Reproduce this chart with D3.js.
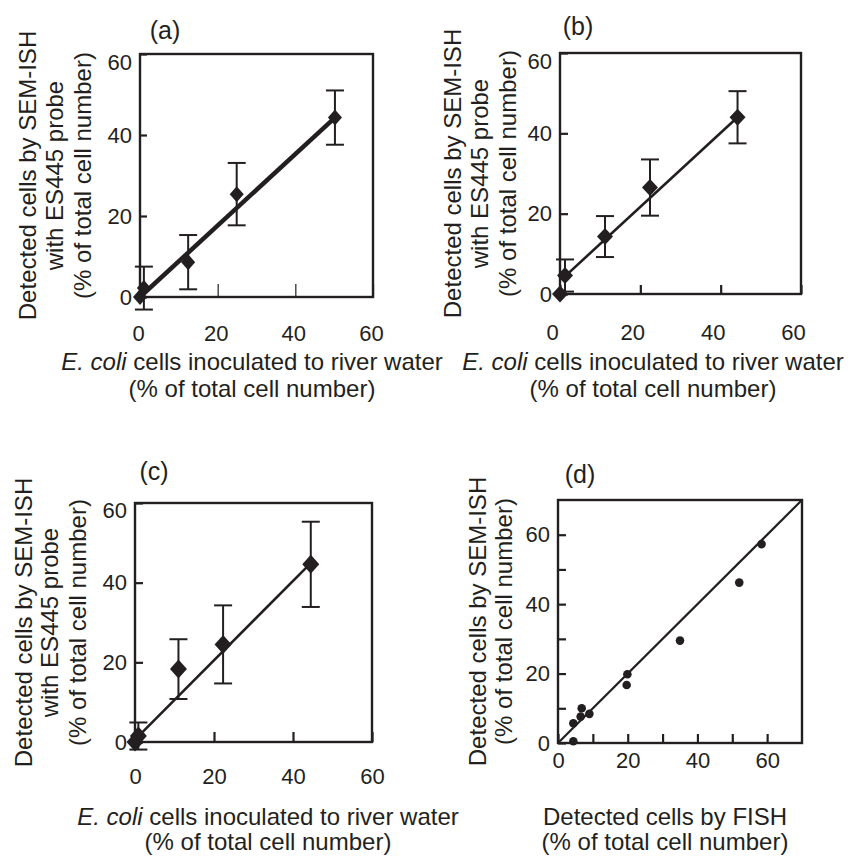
<!DOCTYPE html>
<html><head><meta charset="utf-8">
<script src="https://cdn.jsdelivr.net/npm/d3@7"></script>
<style>
body{margin:0;background:#fff}
svg{display:block}
text{font-family:"Liberation Sans",Arial,Helvetica,sans-serif;fill:#231f20}
</style>
</head><body>
<svg id="chart" width="867" height="858"></svg>
<script>
// ---------------- data ----------------
const ticksABC = [0, 20, 40, 60];
const ticksD = [0, 10, 20, 30, 40, 50, 60];
const tickLabelsD = [0, 20, 40, 60];

// panel (a)
const xA = [0, 1.0, 12.4, 24.9, 50.2];
const yA = [0, 2.2, 8.6, 25.4, 44.3];
const eA = [0, 5.3, 6.7, 7.7, 6.7];
const fitAX = [0, 50.2];
const fitAY = [0, 44.3];

// panel (b)
const xB = [0, 1.25, 11.2, 22.4, 44.2];
const yB = [0, 4.6, 14.3, 26.5, 44.0];
const eB = [0, 4.0, 5.1, 7.0, 6.5];
const fitBX = [0.7, 44.2];
const fitBY = [3.9, 44.0];

// panel (c)
const xC = [0, 0.85, 11.0, 22.3, 44.5];
const yC = [0, 1.5, 18.3, 24.5, 44.6];
const eC = [0, 3.4, 7.5, 9.8, 10.7];
const fitCX = [0, 43.8];
const fitCY = [0.6, 44.2];

// panel (d)
const xD = [4.4, 4.4, 6.5, 6.8, 9.0, 19.9, 19.7, 35.0, 52.0, 58.4];
const yD = [0.5, 5.7, 7.6, 10.0, 8.4, 19.8, 16.7, 29.5, 46.2, 57.3];
const fitDX = [0, 70];
const fitDY = [0, 70];

const panelLabels = ["(a)", "(b)", "(c)", "(d)"];
const yTitleABC = ["Detected cells by SEM-ISH", "with ES445 probe", "(% of total cell number)"];
const yTitleD = ["Detected cells by SEM-ISH", "(% of total cell number)"];
const xTitleABC = [["E. coli", " cells inoculated to river water"], ["", "(% of total cell number)"]];
const xTitleD = [["", "Detected cells by FISH"], ["", "(% of total cell number)"]];

// ---------------- drawing ----------------
const ink = "#231f20";
const svg = d3.select("#chart");

function diamond(hw, hh) {
  return { draw(ctx) { ctx.moveTo(0, -hh); ctx.lineTo(hw, 0); ctx.lineTo(0, hh); ctx.lineTo(-hw, 0); ctx.closePath(); } };
}

function drawPanel(c) {
  const g = svg.append("g");
  const x = d3.scaleLinear().domain(c.xDom).range([c.left, c.right]);
  const y = d3.scaleLinear().domain(c.yDom).range([c.bottom, c.top]);

  // y axis
  const yAx = g.append("g").attr("transform", `translate(${c.left},0)`)
    .call(d3.axisLeft(y).tickValues(c.yTicks).tickSize(-c.yTickLen).tickPadding(8)
      .tickFormat(d => c.yLabels.includes(d) ? d : ""));
  yAx.select(".domain").remove();
  yAx.selectAll(".tick line").attr("stroke", ink).attr("stroke-width", 2.2);
  yAx.selectAll(".tick text").attr("fill", ink).style("font-size", "22px")
    .attr("transform", d => d === 60 && c.topShift ? `translate(0,${c.topShift})` : null);

  // x axis
  const xAx = g.append("g").attr("transform", `translate(0,${c.bottom})`)
    .call(d3.axisBottom(x).tickValues(c.xTicks).tickSize(-c.xTickLen).tickPadding(c.xPad)
      .tickFormat(d => c.xLabels.includes(d) ? d : ""));
  xAx.select(".domain").remove();
  xAx.selectAll(".tick line").attr("stroke", ink).attr("stroke-width", c.xTickW);
  xAx.selectAll(".tick text").attr("fill", ink).style("font-size", "22px")
    .attr("dx", c.xLabDx || 0);

  // frame
  g.append("rect").attr("x", c.left).attr("y", c.top)
    .attr("width", c.right - c.left).attr("height", c.bottom - c.top)
    .attr("fill", "none").attr("stroke", ink).attr("stroke-width", 2.4);

  // fit line
  const fit = c.fitX.map((v, i) => [v, c.fitY[i]]);
  g.append("path").datum(fit)
    .attr("d", d3.line().x(d => x(d[0])).y(d => y(d[1])))
    .attr("fill", "none").attr("stroke", ink).attr("stroke-width", c.fitW);

  const pts = c.xs.map((v, i) => ({ x: v, y: c.ys[i], e: c.es ? c.es[i] : 0 }));

  // error bars
  const eb = g.append("g").attr("stroke", ink).attr("stroke-width", 2).attr("fill", "none");
  pts.filter(p => p.e > 0).forEach(p => {
    const cx = x(p.x), y1 = y(p.y + p.e), y2 = y(p.y - p.e);
    eb.append("line").attr("x1", cx).attr("x2", cx).attr("y1", y1).attr("y2", y2);
    eb.append("line").attr("x1", cx - 9).attr("x2", cx + 9).attr("y1", y1).attr("y2", y1);
    eb.append("line").attr("x1", cx - 9).attr("x2", cx + 9).attr("y1", y2).attr("y2", y2);
  });

  // markers
  if (c.marker === "diamond") {
    g.selectAll("path.pt").data(pts).join("path").attr("class", "pt")
      .attr("transform", d => `translate(${x(d.x)},${y(d.y)})`)
      .attr("d", d3.symbol().type(diamond(c.dw, c.dh))())
      .attr("fill", ink);
  } else {
    g.selectAll("circle.pt").data(pts).join("circle").attr("class", "pt")
      .attr("cx", d => x(d.x)).attr("cy", d => y(d.y)).attr("r", 4.3).attr("fill", ink);
  }

  // panel label
  g.append("text").attr("x", c.labX).attr("y", c.labY).attr("text-anchor", "middle")
    .style("font-size", "25px").text(c.label);

  // y title (rotated)
  const cy = (c.top + c.bottom) / 2;
  c.yTitle.forEach((t, i) => {
    g.append("text").attr("transform", `translate(${c.yTitleX[i]},${cy}) rotate(-90)`)
      .attr("text-anchor", "middle").attr("dy", "0.36em").style("font-size", "24px").text(t);
  });

  // x title
  c.xTitle.forEach((parts, i) => {
    const t = g.append("text").attr("x", c.xTitleCx).attr("y", c.xTitleY[i])
      .attr("text-anchor", "middle").style("font-size", "24px");
    if (parts[0]) t.append("tspan").style("font-style", "italic").text(parts[0]);
    t.append("tspan").text(parts[1]);
  });
}

drawPanel({
  label: panelLabels[0], labX: 165, labY: 39,
  left: 140, right: 373, top: 54, bottom: 297, xDom: [0, 60], yDom: [0, 60],
  xTicks: ticksABC, yTicks: ticksABC, xLabels: ticksABC, yLabels: ticksABC,
  yTickLen: 7, xTickLen: 13, xTickW: 1.2, xPad: 28, xLabDx: -2, topShift: 8,
  xs: xA, ys: yA, es: eA, fitX: fitAX, fitY: fitAY, fitW: 4.5,
  marker: "diamond", dw: 7, dh: 8,
  yTitle: yTitleABC, yTitleX: [27, 54, 82],
  xTitle: xTitleABC, xTitleCx: 252, xTitleY: [370, 397]
});
drawPanel({
  label: panelLabels[1], labX: 578, labY: 35,
  left: 560, right: 801, top: 53, bottom: 294, xDom: [0, 60], yDom: [0, 60],
  xTicks: ticksABC, yTicks: ticksABC, xLabels: ticksABC, yLabels: ticksABC,
  yTickLen: 8, xTickLen: 9, xTickW: 2.2, xPad: 30, xLabDx: -8, topShift: 8,
  xs: xB, ys: yB, es: eB, fitX: fitBX, fitY: fitBY, fitW: 2.6,
  marker: "diamond", dw: 8, dh: 8.5,
  yTitle: yTitleABC, yTitleX: [452, 479, 507],
  xTitle: xTitleABC, xTitleCx: 653, xTitleY: [370, 397]
});
drawPanel({
  label: panelLabels[2], labX: 154, labY: 480,
  left: 135, right: 372, top: 503, bottom: 742, xDom: [0, 60], yDom: [0, 60],
  xTicks: ticksABC, yTicks: ticksABC, xLabels: ticksABC, yLabels: ticksABC,
  yTickLen: 8, xTickLen: 10, xTickW: 2.2, xPad: 26, xLabDx: 0, topShift: 7,
  xs: xC, ys: yC, es: eC, fitX: fitCX, fitY: fitCY, fitW: 2.6,
  marker: "diamond", dw: 8.5, dh: 9.5,
  yTitle: yTitleABC, yTitleX: [23, 49, 77],
  xTitle: xTitleABC, xTitleCx: 268, xTitleY: [825, 850]
});
drawPanel({
  label: panelLabels[3], labX: 580, labY: 483,
  left: 558, right: 802, top: 500, bottom: 743, xDom: [0, 70], yDom: [0, 70],
  xTicks: ticksD, yTicks: ticksD, xLabels: tickLabelsD, yLabels: tickLabelsD,
  yTickLen: 8, xTickLen: 9, xTickW: 2.2, xPad: 9, xLabDx: 0, topShift: 0,
  xs: xD, ys: yD, es: null, fitX: fitDX, fitY: fitDY, fitW: 2.2,
  marker: "circle",
  yTitle: yTitleD, yTitleX: [477, 503],
  xTitle: xTitleD, xTitleCx: 665, xTitleY: [825, 850]
});
</script>
</body></html>
